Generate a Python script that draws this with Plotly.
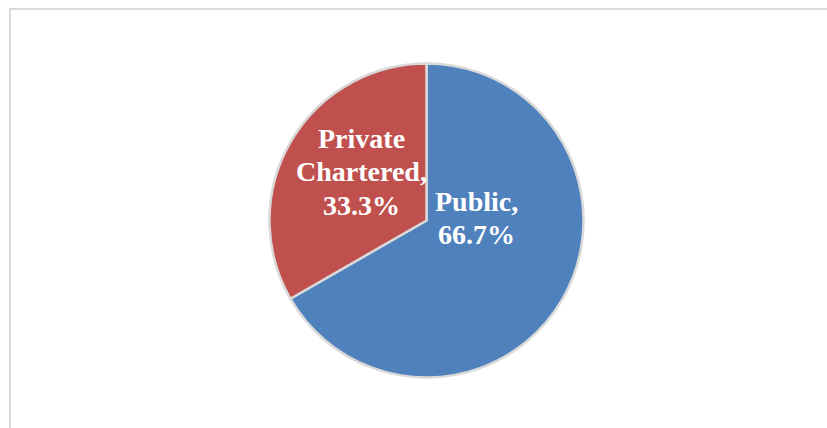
import plotly.graph_objects as go

# Share of institutions by type (percent)
categories = ["Public", "Private Chartered"]
shares = [66.7, 33.3]
colors = ["#4F81BD", "#C0504D"]

W, H = 827, 428

fig = go.Figure(
    go.Pie(
        labels=categories,
        values=shares,
        sort=True,
        direction="clockwise",
        rotation=0,
        marker=dict(colors=colors, line=dict(color="#D9D9D9", width=2.5)),
        textinfo="none",
        hoverinfo="label+percent",
        showlegend=False,
        domain=dict(x=[269.5 / W, 583.5 / W], y=[1 - 377.5 / H, 1 - 63.5 / H]),
    )
)

# Data labels: category name, then percentage, wrapped into centred lines
label_lines = {
    "Public": ["Public,", f"{shares[0]:.1f}%"],
    "Private Chartered": ["Private", "Chartered,", f"{shares[1]:.1f}%"],
}
label_anchor = {"Public": (476, 201), "Private Chartered": (361, 138)}
line_step = 33.5

for name, lines in label_lines.items():
    cx, cy = label_anchor[name]
    for i, txt in enumerate(lines):
        fig.add_annotation(
            x=cx / W,
            y=1 - (cy + i * line_step) / H,
            xref="paper",
            yref="paper",
            text=f"<b>{txt}</b>",
            showarrow=False,
            xanchor="center",
            yanchor="middle",
            font=dict(family="Liberation Serif", size=28, color="white"),
        )

# Chart-area frame
fig.add_shape(
    type="rect",
    xref="paper",
    yref="paper",
    x0=10 / W,
    x1=1.02,
    y0=-0.02,
    y1=1 - 9 / H,
    line=dict(color="#D9D9D9", width=2),
    fillcolor="rgba(0,0,0,0)",
)

fig.update_layout(
    width=W,
    height=H,
    margin=dict(l=0, r=0, t=0, b=0),
    paper_bgcolor="white",
    plot_bgcolor="white",
)

fig.write_html("out.html")
